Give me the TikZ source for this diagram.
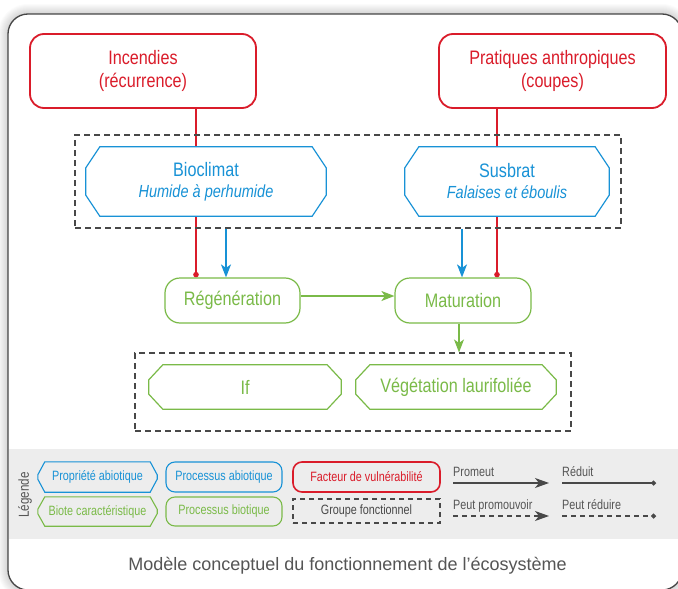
\documentclass[tikz,border=0pt]{standalone}
\usepackage{fontspec}
\setmainfont{Liberation Sans}
\newfontfamily\cond[FakeStretch=0.83]{Liberation Sans}
\newfontfamily\condl[FakeStretch=0.8]{Liberation Sans}
\usetikzlibrary{arrows.meta,calc}
\definecolor{cred}{RGB}{218,28,42}
\definecolor{cblue}{RGB}{24,146,214}
\definecolor{cgreen}{RGB}{122,186,72}
\definecolor{cdark}{RGB}{72,72,72}
\definecolor{ctext}{RGB}{85,85,85}
\definecolor{cband}{RGB}{237,237,237}
\definecolor{cframe}{RGB}{70,70,70}
\pgfdeclarelayer{bg}
\pgfdeclarelayer{lines}
\pgfdeclarelayer{shapes}
\pgfsetlayers{bg,lines,shapes,main}
\newcommand\octdraw[4]{\path[#2] ([xshift=#3]#1.north west) -- ([xshift=-#3]#1.north east) -- ([yshift=-#4]#1.north east) -- ([yshift=#4]#1.south east) -- ([xshift=-#3]#1.south east) -- ([xshift=#3]#1.south west) -- ([yshift=#4]#1.south west) -- ([yshift=-#4]#1.north west) -- cycle;}
\begin{document}
\begin{tikzpicture}[x=1pt,y=-1pt,
  bigfont/.style={font=\cond\fontsize{19.5}{23}\selectfont},
  legfont/.style={font=\condl\fontsize{13.5}{14}\selectfont},
  redbox/.style={draw=cred, line width=1.8pt, rounded corners=14pt, fill=white, text=cred, bigfont, align=center, inner sep=0pt},
  greenbox/.style={draw=cgreen, line width=1.2pt, rounded corners=15pt, fill=white, text=cgreen, bigfont, inner sep=0pt},
  octnode/.style={inner sep=0pt, align=center},
  group/.style={draw=cdark, line width=1.1pt, dash pattern=on 6pt off 4pt, inner sep=0pt},
  redc/.style={draw=cred, line width=1.3pt, -{Circle[length=5.5pt]}},
  bluea/.style={draw=cblue, line width=1.3pt, -{Stealth[length=13pt,width=10pt,inset=3.5pt]}},
  greena/.style={draw=cgreen, line width=1.3pt, -{Stealth[length=13pt,width=10pt,inset=3.5pt]}},
  legbox/.style={line width=1.1pt, rounded corners=9pt, inner sep=0pt, legfont, minimum width=116pt, minimum height=30pt},
  legtext/.style={legfont, text=ctext, inner sep=0pt},
  legarrow/.style={draw=cdark, line width=1.2pt, -{Stealth[length=14pt,width=10pt,inset=4pt]}},
  legdot/.style={draw=cdark, line width=1.2pt, -{Circle[length=5pt]}},
  legdash/.style={dash pattern=on 5pt off 4pt}
]
\useasboundingbox (0,0) rectangle (678,589);
\begin{pgfonlayer}{bg}
  \fill[white] (0,0) rectangle (678,589);
  \foreach \i in {1,...,10} {
    \fill[black, opacity=0.015, rounded corners={20+\i}] ({8-\i},{14-\i}) rectangle ({682+\i},{590+\i});
  }
  \draw[fill=white, draw=cframe, line width=1.3pt, rounded corners=20pt] (8,14) rectangle (682,590);
  \fill[cband] (8.7,449) rectangle (681,539);
\end{pgfonlayer}

% main nodes
\node[redbox, minimum width=226pt, minimum height=74pt] (inc) at (143,71) {Incendies\\(récurrence)};
\node[redbox, minimum width=227pt, minimum height=74pt] (prat) at (552.5,71) {Pratiques anthropiques\\(coupes)};
\node[group, minimum width=546pt, minimum height=93pt] (grp1) at (348,181.5) {};
\node[octnode, text=cblue, bigfont, minimum width=240pt, minimum height=69pt] (bio) at (206,181.5) {Bioclimat\\[-2pt]{\fontsize{17.5}{20}\selectfont\itshape Humide à perhumide}};
\node[octnode, text=cblue, bigfont, minimum width=204pt, minimum height=69pt] (sus) at (507,181.5) {Susbrat\\[-2pt]{\fontsize{17.5}{20}\selectfont\itshape Falaises et éboulis}};
\node[greenbox, minimum width=135pt, minimum height=45pt] (reg) at (232.5,300.5) {Régénération};
\node[greenbox, minimum width=136pt, minimum height=45pt] (mat) at (463,300.5) {Maturation};
\node[group, minimum width=436pt, minimum height=78pt] (grp2) at (353,392) {};
\node[octnode, text=cgreen, bigfont, minimum width=192pt, minimum height=44pt] (if) at (245,387) {If};
\node[octnode, text=cgreen, bigfont, minimum width=200pt, minimum height=44pt] (veg) at (456,387) {Végétation laurifoliée};

\begin{pgfonlayer}{shapes}
  \octdraw{bio}{draw=cblue, fill=white, line width=1.2pt}{14pt}{21pt}
  \octdraw{sus}{draw=cblue, fill=white, line width=1.2pt}{14pt}{21pt}
  \octdraw{if}{draw=cgreen, fill=white, line width=1.2pt}{14pt}{15pt}
  \octdraw{veg}{draw=cgreen, fill=white, line width=1.2pt}{14pt}{15pt}
\end{pgfonlayer}

% connectors
\coordinate (xr1) at (196,0);
\coordinate (xb1) at (226,0);
\coordinate (xb2) at (462,0);
\coordinate (xr2) at (497,0);
\coordinate (xg) at (459,0);
\coordinate (yg) at (0,296);
\begin{pgfonlayer}{lines}
  \draw[redc] (inc.south -| xr1) -- (reg.north -| xr1);
  \draw[bluea] (grp1.south -| xb1) -- (reg.north -| xb1);
  \draw[bluea] (grp1.south -| xb2) -- (mat.north -| xb2);
  \draw[redc] (prat.south -| xr2) -- (mat.north -| xr2);
  \draw[greena] (reg.east |- yg) -- (mat.west |- yg);
  \draw[greena] (mat.south -| xg) -- (grp2.north -| xg);
\end{pgfonlayer}

% legend
\node[rotate=90, legtext, font=\condl\fontsize{14.5}{15}\selectfont] (leg) at (25,495) {Légende};
\node[octnode, legfont, text=cblue, minimum width=119pt, minimum height=30pt] (lpa) at (97.5,477) {Propriété abiotique};
\node[octnode, legfont, text=cgreen, minimum width=119pt, minimum height=29pt] (lbc) at (97.5,511.5) {Biote caractéristique};
\octdraw{lpa}{draw=cblue, line width=1.1pt}{7pt}{13pt}
\octdraw{lbc}{draw=cgreen, line width=1.1pt}{7pt}{12.5pt}
\node[legbox, draw=cblue, text=cblue] (lpab) at (224,477) {Processus abiotique};
\node[legbox, draw=cgreen, text=cgreen, minimum height=29pt] (lpb) at (224,511.5) {Processus biotique};
\node[legbox, draw=cred, text=cred, line width=1.6pt, minimum width=147pt] (lfv) at (366.5,477) {Facteur de vulnérabilité};
\node[group, legfont, text=cdark, minimum width=147pt, minimum height=24pt, dash pattern=on 5pt off 4pt] (lgf) at (366.5,511) {Groupe fonctionnel};

\node[legtext, anchor=base west] (tprom) at (453,476) {Promeut};
\node[legtext, anchor=base west] (tred) at (562,476) {Réduit};
\node[legtext, anchor=base west] (tpp) at (453,509) {Peut promouvoir};
\node[legtext, anchor=base west] (tpr) at (562,509) {Peut réduire};
\coordinate (a1s) at (453,483);
\coordinate (a1e) at (549,483);
\coordinate (a2s) at (562,483);
\coordinate (a2e) at (656,483);
\coordinate (a3s) at (453,516);
\coordinate (a3e) at (549,516);
\coordinate (a4s) at (562,516);
\coordinate (a4e) at (656,516);
\draw[legarrow] (a1s) -- (a1e);
\draw[legdot] (a2s) -- (a2e);
\draw[legarrow, legdash] (a3s) -- (a3e);
\draw[legdot, legdash] (a4s) -- (a4e);

% caption
\node[font=\fontsize{18}{18}\selectfont, text=ctext, anchor=base, inner sep=0pt] (cap) at (347.5,570) {Modèle conceptuel du fonctionnement de l’écosystème};
\end{tikzpicture}
\end{document}
